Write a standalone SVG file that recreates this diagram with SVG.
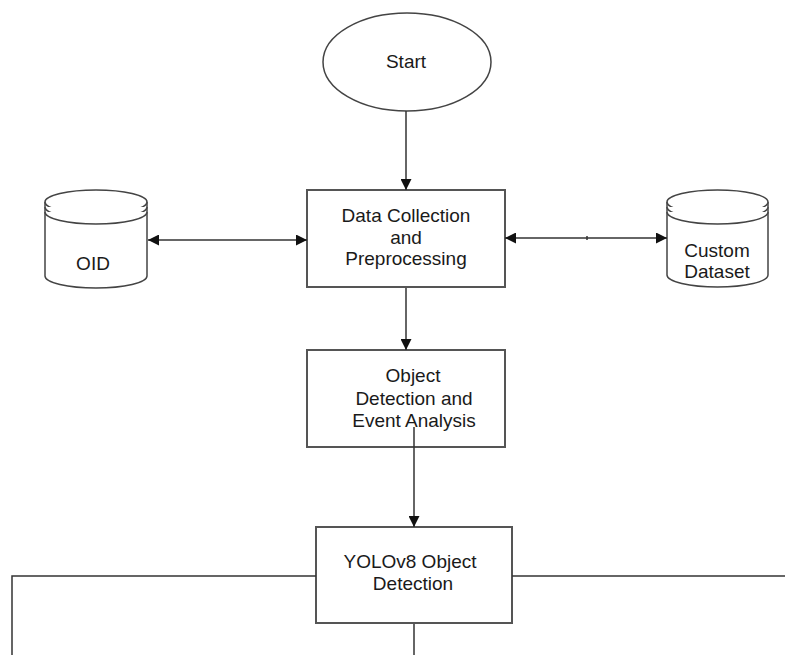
<svg xmlns="http://www.w3.org/2000/svg" width="785" height="655" viewBox="0 0 785 655">
<defs>
<marker id="ah" viewBox="0 0 10 10" refX="10" refY="5" markerWidth="11" markerHeight="11" markerUnits="userSpaceOnUse" orient="auto-start-reverse">
<path d="M0,0 L10,5 L0,10 z" fill="#111"/>
</marker>
<style>
.box{fill:#fff;stroke:#555;stroke-width:2}
.cyl{fill:#fff;stroke:#444;stroke-width:1.5}
.ln{fill:none;stroke:#333;stroke-width:1.5}
.ar{fill:none;stroke:#333;stroke-width:1.5;marker-end:url(#ah)}
.br{fill:none;stroke:#333;stroke-width:1.5;marker-start:url(#ah);marker-end:url(#ah)}
text{font-family:"Liberation Sans",Arial,sans-serif;font-size:19px;fill:#1a1a1a;text-anchor:middle}
</style>
</defs>
<rect width="785" height="655" fill="#fff"/>
<g id="start">
<ellipse cx="407" cy="62" rx="84" ry="49" fill="#fff" stroke="#444" stroke-width="1.5"/>
<text x="406" y="68">Start</text>
</g>
<g id="data-collection">
<rect class="box" x="307" y="190" width="198" height="97"/>
<text x="406" y="222">Data Collection</text>
<text x="406" y="243.5">and</text>
<text x="406" y="265">Preprocessing</text>
</g>
<g id="oid">
<path class="cyl" d="M45,202 L45,276 A51,12 0 0 0 147,276 L147,202"/>
<ellipse class="cyl" cx="96" cy="202" rx="51" ry="12"/>
<path class="cyl" d="M45,207 A51,12 0 0 0 147,207" fill="none"/>
<path class="cyl" d="M45,212 A51,12 0 0 0 147,212" fill="none"/>
<text x="93" y="270">OID</text>
</g>
<g id="custom-dataset">
<path class="cyl" d="M667,202 L667,275 A50.5,12 0 0 0 768,275 L768,202"/>
<ellipse class="cyl" cx="717.5" cy="202" rx="50.5" ry="12"/>
<path class="cyl" d="M667,207 A50.5,12 0 0 0 768,207" fill="none"/>
<path class="cyl" d="M667,212 A50.5,12 0 0 0 768,212" fill="none"/>
<text x="717" y="257">Custom</text>
<text x="717" y="278">Dataset</text>
</g>
<g id="object-detection">
<rect class="box" x="307" y="350" width="198" height="97"/>
<text x="413" y="382">Object</text>
<text x="414" y="405">Detection and</text>
<text x="414" y="427">Event Analysis</text>
</g>
<g id="yolo">
<rect class="box" x="316" y="527" width="196" height="96"/>
<text x="410" y="568">YOLOv8 Object</text>
<text x="413" y="590">Detection</text>
</g>
<g id="connectors">
<path class="ar" d="M406,111 L406,190"/>
<path class="br" d="M148,240 L307,240"/>
<path class="br" d="M505,238 L667,238"/>
<path class="ln" d="M587,236 L587,240"/>
<path class="ar" d="M406,288 L406,350"/>
<path class="ar" d="M414,427 L414,527"/>
<path class="ln" d="M316,576 L12,576 L12,655"/>
<path class="ln" d="M512,576 L785,576"/>
<path class="ln" d="M414,624 L414,655"/>
</g>
</svg>
